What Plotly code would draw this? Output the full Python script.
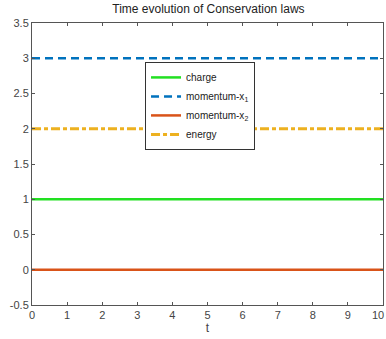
import plotly.graph_objects as go

t = [0, 1, 2, 3, 4, 5, 6, 7, 8, 9, 10]
charge = [1] * 11
momentum_x1 = [3] * 11
momentum_x2 = [0] * 11
energy = [2] * 11
x_ticks = [0, 1, 2, 3, 4, 5, 6, 7, 8, 9]
y_ticks = [-0.5, 0, 0.5, 1, 1.5, 2, 2.5, 3, 3.5]
y_labels = ["-0.5", "0", "0.5", "1", "1.5", "2", "2.5", "3", "3.5"]

fig = go.Figure()
fig.add_trace(go.Scatter(x=t, y=charge, mode="lines", name="charge",
                         line=dict(color="#22e022", width=2.5)))
fig.add_trace(go.Scatter(x=t, y=momentum_x1, mode="lines", name="momentum-x<sub>1</sub>",
                         line=dict(color="#0072BD", width=2.5, dash="8px,5px")))
fig.add_trace(go.Scatter(x=t, y=momentum_x2, mode="lines", name="momentum-x<sub>2</sub>",
                         line=dict(color="#D95319", width=2.5)))
fig.add_trace(go.Scatter(x=t, y=energy, mode="lines", name="energy",
                         line=dict(color="#EDB120", width=3, dash="9px,3px,4px,3px")))

tick_font = dict(family="Arial", size=11, color="#444444")
axis_common = dict(showline=True, linecolor="#555555", linewidth=1, mirror="ticks",
                   ticks="inside", ticklen=3, tickcolor="#555555", showgrid=False,
                   zeroline=False, tickfont=tick_font)

fig.update_layout(
    width=386, height=339,
    margin=dict(l=32, r=3, t=23, b=34),
    paper_bgcolor="white", plot_bgcolor="white",
    title=dict(text="Time evolution of Conservation laws", x=0.54, xanchor="center",
               y=0.985, yanchor="top", font=dict(family="Arial", size=12, color="#222222")),
    xaxis=dict(range=[0, 10], tickvals=x_ticks, title=dict(text="t", standoff=2,
               font=dict(family="Arial", size=12, color="#444444")), **axis_common),
    yaxis=dict(range=[-0.5, 3.5], tickvals=y_ticks, ticktext=y_labels, **axis_common),
    legend=dict(x=0.322, y=0.862, xanchor="left", yanchor="top", bgcolor="white",
                bordercolor="#333333", borderwidth=1, font=dict(family="Arial", size=10, color="#222222"),
                tracegroupgap=0, itemwidth=30),
    showlegend=True,
)

# last x tick label, kept within the figure's right edge
fig.add_annotation(x=t[-1], y=-0.5, xref="x", yref="y", text=str(t[-1]), showarrow=False,
                   xanchor="right", xshift=3, yanchor="top", yshift=-2, font=tick_font)

fig.write_html("out.html")
